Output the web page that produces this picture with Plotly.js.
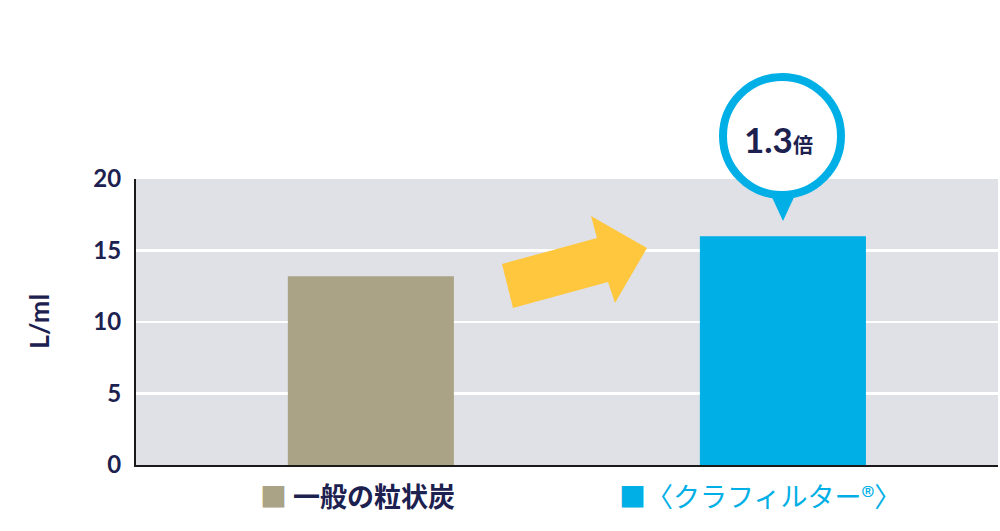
<!DOCTYPE html>
<html>
<head>
<meta charset="utf-8">
<script src="https://cdn.plot.ly/plotly-3.0.1.min.js"></script>
<style>html,body{margin:0;padding:0;background:#fff;}#chart{width:1000px;height:531px;}</style>
</head>
<body>
<div id="chart"></div>
<script>
// ---- data ----
const categories = ['一般の粒状炭', '〈クラフィルター®〉'];
const values = [13.2, 16.0];
const barColors = ['#aaa386', '#00afe6'];
const yTickVals = [0, 5, 10, 15, 20];
const yTickText = ['0', '5', '10', '15', '20'];
const ratioLabel = '1.3';
const ratioUnit = '倍';
const yTitle = 'L/ml';

// ---- layout helpers (pixel -> paper) ----
const W = 1000, H = 531;
const M = {l: 136, r: 2, t: 179, b: 66};
const PW = W - M.l - M.r, PH = H - M.t - M.b;
const px = x => (x - M.l) / PW;
const py = y => (H - M.b - y) / PH;
const NAVY = '#1c2150';
const BLUE = '#00afe6';

function pathFrom(points) {
  return 'M ' + points.map(p => px(p[0]).toFixed(5) + ',' + py(p[1]).toFixed(5)).join(' L ') + ' Z';
}

const arrowPts = [[513,308],[502,264],[597,238],[591,216],[647,248],[615,303],[608,282]];
const triPts = [[770,193],[796,193],[783,221]];
const cx = 782, cy = 136, r = 59;

const trace = {
  type: 'bar',
  x: categories,
  y: values,
  width: 0.403,
  marker: {color: barColors, line: {width: 0}},
  hoverinfo: 'skip'
};

const layout = {
  width: W, height: H,
  margin: M,
  paper_bgcolor: '#ffffff',
  plot_bgcolor: '#e0e1e6',
  showlegend: false,
  xaxis: {
    type: 'category',
    range: [-0.570, 1.522],
    showticklabels: false,
    showgrid: false,
    zeroline: false,
    showline: true,
    linecolor: '#1a1a1a',
    linewidth: 2,
    ticks: ''
  },
  yaxis: {
    range: [0, 20],
    tickvals: yTickVals,
    ticktext: yTickText,
    showgrid: true,
    gridcolor: '#ffffff',
    gridwidth: 2.5,
    zeroline: false,
    showline: true,
    linecolor: '#1a1a1a',
    linewidth: 2,
    ticks: 'outside',
    ticklen: 8,
    tickcolor: 'rgba(0,0,0,0)',
    tickfont: {family: 'Lato, sans-serif', size: 24, color: NAVY, weight: 'bold'}
  },
  shapes: [
    {type: 'path', xref: 'paper', yref: 'paper', path: pathFrom(arrowPts),
     fillcolor: '#ffc73e', line: {width: 0}, layer: 'above'},
    {type: 'circle', xref: 'paper', yref: 'paper',
     x0: px(cx - r), x1: px(cx + r), y0: py(cy + r), y1: py(cy - r),
     fillcolor: '#ffffff', line: {color: BLUE, width: 8}, layer: 'above'},
    {type: 'path', xref: 'paper', yref: 'paper', path: pathFrom(triPts),
     fillcolor: BLUE, line: {width: 0}, layer: 'above'}
  ],
  annotations: [
    {xref: 'paper', yref: 'paper', x: px(38), y: py(322), text: '<b>' + yTitle + '</b>',
     textangle: -90, showarrow: false, xanchor: 'center', yanchor: 'middle',
     font: {family: 'Lato, sans-serif', size: 27, color: NAVY}},
    {xref: 'paper', yref: 'paper', x: px(778), y: py(139),
     text: '<b>' + ratioLabel + '</b><b><span style="font-size:20px">' + ratioUnit + '</span></b>',
     showarrow: false, xanchor: 'center', yanchor: 'middle',
     font: {family: 'Lato, "Noto Sans CJK JP", sans-serif', size: 35, color: NAVY}},
    {xref: 'paper', yref: 'paper', x: px(357), y: py(495),
     text: '<span style="color:' + barColors[0] + '">■</span> <b>' + categories[0] + '</b>',
     showarrow: false, xanchor: 'center', yanchor: 'middle',
     font: {family: '"Noto Sans CJK JP", sans-serif', size: 27, color: NAVY}},
    {xref: 'paper', yref: 'paper', x: px(760), y: py(495),
     text: '<span style="color:' + barColors[1] + '">■</span>' + categories[1],
     showarrow: false, xanchor: 'center', yanchor: 'middle',
     font: {family: '"Noto Sans CJK JP", sans-serif', size: 27, color: BLUE}}
  ]
};

Plotly.newPlot('chart', [trace], layout, {displayModeBar: false, staticPlot: true});
</script>
</body>
</html>
